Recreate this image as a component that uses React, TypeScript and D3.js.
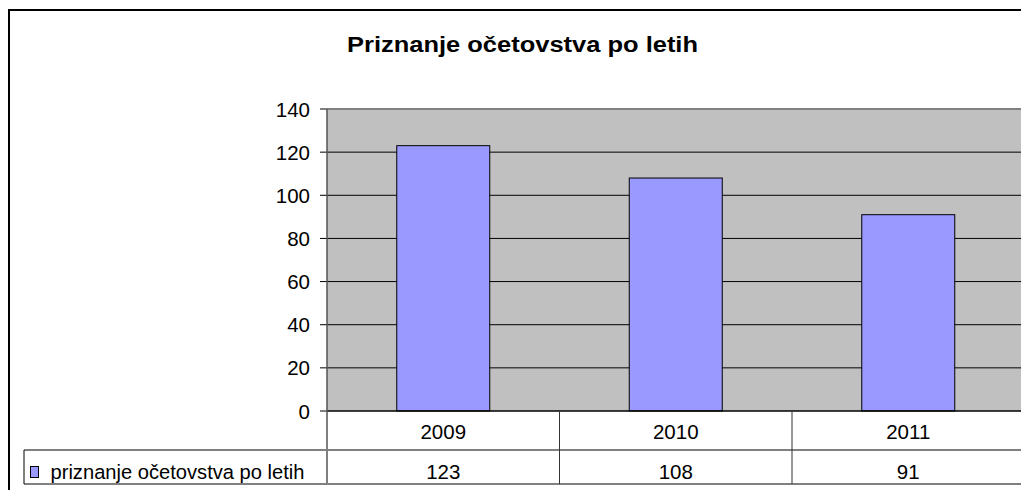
import React from "react";
import * as d3 from "d3";

const title = "Priznanje očetovstva po letih";
const seriesName = "priznanje očetovstva po letih";
const years = ["2009", "2010", "2011"];
const values = [123, 108, 91];
const yTicks = [0, 20, 40, 60, 80, 100, 120, 140];

const FONT = "'Liberation Sans', Arial, sans-serif";

export default function App() {
  const W = 1021;
  const H = 490;
  const left = 327;
  const right = 1024.5;
  const top = 109;
  const bottom = 411;
  const row1 = 450;
  const row2 = 484;

  const x = d3
    .scaleBand<string>()
    .domain(years)
    .range([left, right])
    .paddingInner(0.6)
    .paddingOuter(0.3);
  const xc = d3.scaleBand<string>().domain(years).range([left, right]).padding(0);
  const y = d3.scaleLinear().domain([0, 140]).range([bottom, top]);

  return (
    <svg
      width={W}
      height={H}
      style={{ position: "absolute", left: 0, top: 0, background: "#fff" }}
      fontFamily={FONT}
    >
      {/* outer border */}
      <rect x={9} y={10} width={W + 20} height={H + 20} fill="#fff" stroke="#000" strokeWidth={2} />
      {/* title */}
      <text
        x={347}
        y={52}
        fontWeight="bold"
        fontSize={22.5}
        fill="#000"
        textLength={351}
        lengthAdjust="spacingAndGlyphs"
      >
        {title}
      </text>
      {/* plot area */}
      <rect x={left} y={top} width={right - left} height={bottom - top} fill="#c0c0c0" />
      <line x1={left} x2={right} y1={top} y2={top} stroke="#808080" strokeWidth={2} />
      {/* gridlines */}
      {yTicks
        .filter((t) => t !== 0 && t !== 140)
        .map((t) => (
          <line key={t} x1={left} x2={right} y1={y(t)} y2={y(t)} stroke="#000" strokeWidth={1} />
        ))}
      {/* ticks & labels */}
      {yTicks.map((t) => (
        <g key={"t" + t}>
          <line x1={320} x2={left} y1={y(t)} y2={y(t)} stroke="#000" strokeWidth={1} />
          <text x={310} y={y(t) + 7.5} textAnchor="end" fontSize={20.5} fill="#000">
            {t}
          </text>
        </g>
      ))}
      {/* bars */}
      {years.map((yr, i) => (
        <rect
          key={yr}
          x={x(yr)}
          y={y(values[i])}
          width={x.bandwidth()}
          height={y(0) - y(values[i])}
          fill="#9999ff"
          stroke="#000"
          strokeWidth={1}
        />
      ))}
      {/* axis lines */}
      <line x1={left} x2={right} y1={bottom} y2={bottom} stroke="#000" strokeWidth={1.5} />
      <line x1={left} x2={left} y1={top} y2={row2} stroke="#555" strokeWidth={1.5} />
      {/* data table */}
      <line x1={24} x2={right} y1={row1} y2={row1} stroke="#808080" strokeWidth={2} />
      <line x1={24} x2={right} y1={row2} y2={row2} stroke="#808080" strokeWidth={2} />
      <line x1={24} x2={24} y1={row1} y2={row2} stroke="#000" strokeWidth={1} />
      {years.slice(1).map((yr) => (
        <line key={"c" + yr} x1={xc(yr)} x2={xc(yr)} y1={bottom} y2={row2} stroke="#333" strokeWidth={1} />
      ))}
      {years.map((yr, i) => (
        <g key={"r" + yr}>
          <text x={(xc(yr) as number) + xc.bandwidth() / 2} y={438.5} textAnchor="middle" fontSize={20.5} fill="#000">
            {yr}
          </text>
          <text x={(xc(yr) as number) + xc.bandwidth() / 2} y={479} textAnchor="middle" fontSize={20.5} fill="#000">
            {values[i]}
          </text>
        </g>
      ))}
      {/* legend key */}
      <rect x={30.5} y={466.5} width={8} height={11} fill="#9999ff" stroke="#000" strokeWidth={1} />
      <text x={50.5} y={479} fontSize={20.5} fill="#000" textLength={254} lengthAdjust="spacingAndGlyphs">
        {seriesName}
      </text>
    </svg>
  );
}
